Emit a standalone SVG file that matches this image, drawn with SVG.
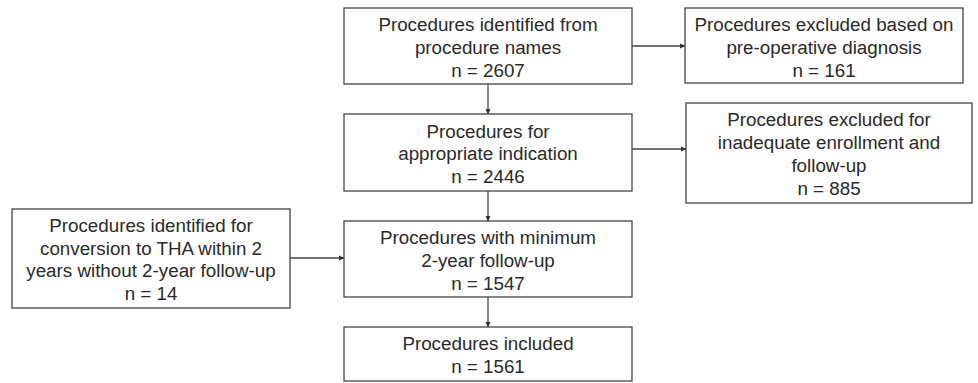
<svg xmlns="http://www.w3.org/2000/svg" width="978" height="383" viewBox="0 0 978 383">
<style>
.box{fill:#fff;stroke:#444;stroke-width:1.3}
.t{font-family:"Liberation Sans",Arial,sans-serif;font-size:18.8px;fill:#2a2a2a;text-anchor:middle}
.c{stroke:#444;stroke-width:1.3;fill:none;marker-end:url(#ah)}
</style>
<defs>
<marker id="ah" markerWidth="6" markerHeight="6" refX="5" refY="3" orient="auto" markerUnits="userSpaceOnUse">
<path d="M0,0.5 L5.5,3 L0,5.5 Z" fill="#333"/>
</marker>
</defs>
<rect width="978" height="383" fill="#fff"/>
<g id="connectors">
<line class="c" x1="632" y1="46" x2="685" y2="46"/>
<line class="c" x1="632" y1="149" x2="686" y2="149"/>
<line class="c" x1="290" y1="258" x2="344" y2="258"/>
<line class="c" x1="488" y1="84" x2="488" y2="114"/>
<line class="c" x1="488" y1="191" x2="488" y2="221"/>
<line class="c" x1="488" y1="297" x2="488" y2="327"/>
</g>
<g id="b1">
<rect class="box" x="344" y="8" width="288" height="76"/>
<text class="t" x="488" y="31">Procedures identified from</text>
<text class="t" x="488" y="54">procedure names</text>
<text class="t" x="488" y="77">n = 2607</text>
</g>
<g id="b2">
<rect class="box" x="344" y="114" width="288" height="77"/>
<text class="t" x="488" y="137.5">Procedures for</text>
<text class="t" x="488" y="160.3">appropriate indication</text>
<text class="t" x="488" y="183">n = 2446</text>
</g>
<g id="b3">
<rect class="box" x="344" y="221" width="288" height="76"/>
<text class="t" x="488" y="244">Procedures with minimum</text>
<text class="t" x="488" y="267">2-year follow-up</text>
<text class="t" x="488" y="290">n = 1547</text>
</g>
<g id="b4">
<rect class="box" x="344" y="327" width="288" height="54"/>
<text class="t" x="488" y="350">Procedures included</text>
<text class="t" x="488" y="373">n = 1561</text>
</g>
<g id="tr1">
<rect class="box" x="685" y="8" width="278" height="75"/>
<text class="t" x="824" y="31">Procedures excluded based on</text>
<text class="t" x="824" y="54">pre-operative diagnosis</text>
<text class="t" x="824" y="77">n = 161</text>
</g>
<g id="tr2">
<rect class="box" x="686" y="103" width="286" height="100"/>
<text class="t" x="829" y="126.3">Procedures excluded for</text>
<text class="t" x="829" y="149.1">inadequate enrollment and</text>
<text class="t" x="829" y="171.9">follow-up</text>
<text class="t" x="829" y="194.7">n = 885</text>
</g>
<g id="l1">
<rect class="box" x="12" y="209" width="278" height="99"/>
<text class="t" x="151" y="231.8">Procedures identified for</text>
<text class="t" x="151" y="254.6">conversion to THA within 2</text>
<text class="t" x="151" y="277.4">years without 2-year follow-up</text>
<text class="t" x="151" y="300.2">n = 14</text>
</g>
</svg>
